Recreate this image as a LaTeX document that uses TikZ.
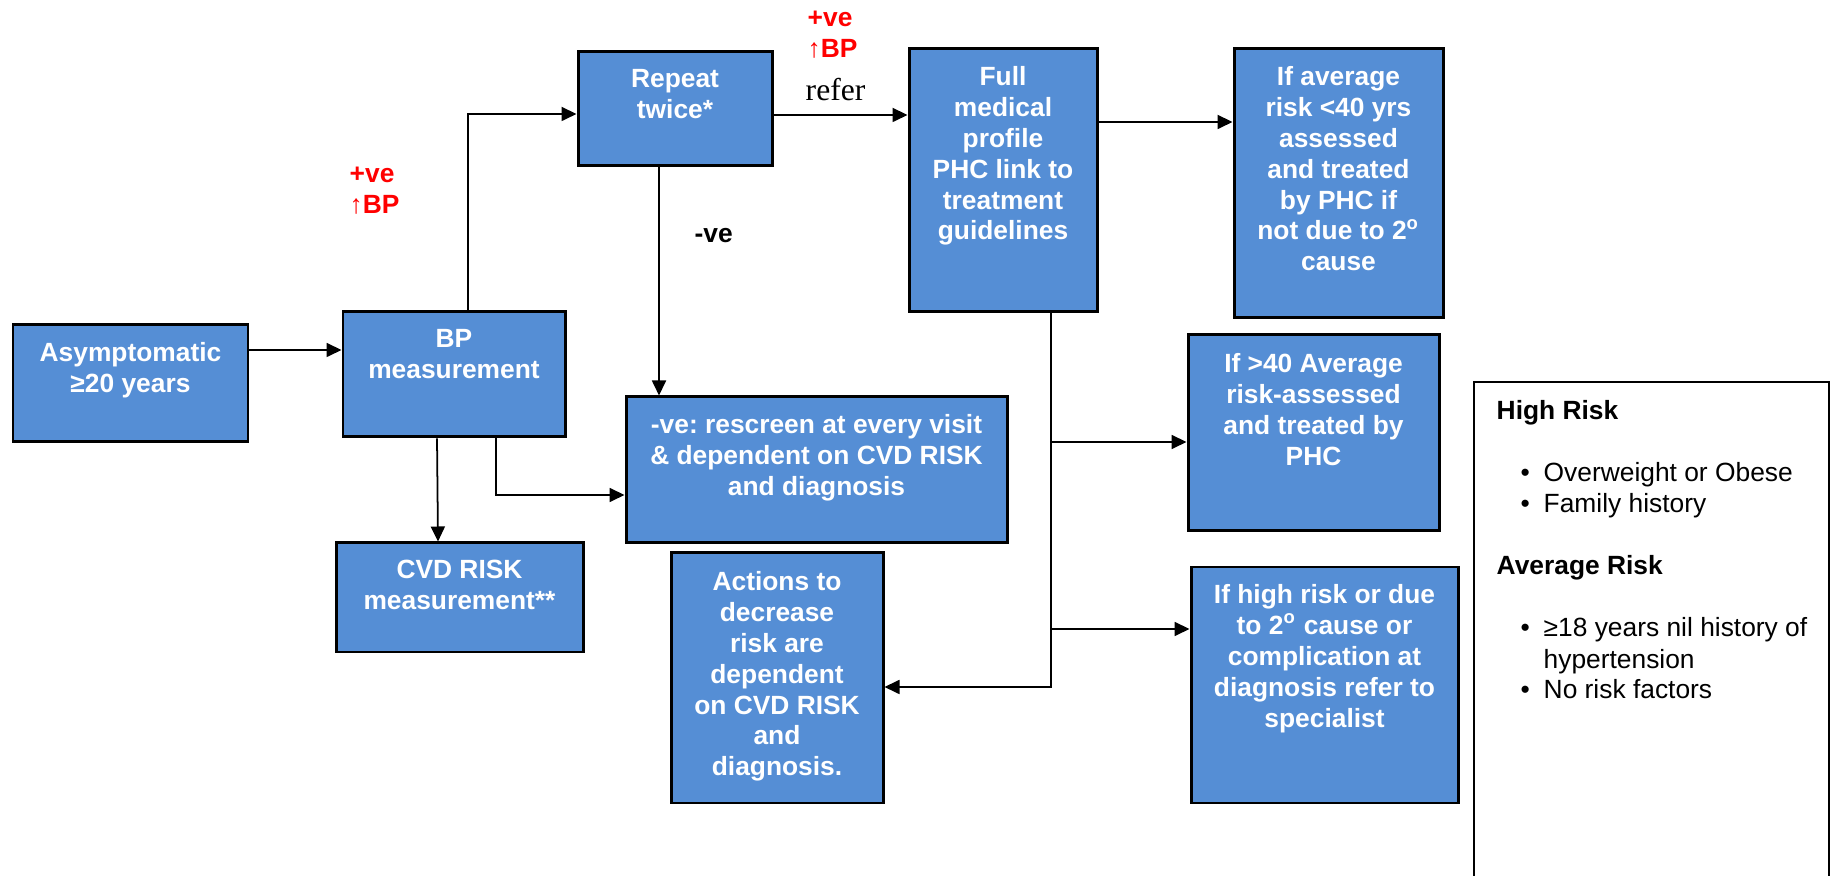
\documentclass[tikz,border=0pt]{standalone}
\usepackage{fontspec}
\setmainfont{Liberation Sans}
\newfontfamily\referfont{Liberation Serif}
\usetikzlibrary{arrows.meta, positioning}
\definecolor{boxblue}{HTML}{558ED5}
\definecolor{plusred}{HTML}{FF0000}
\frenchspacing

\begin{document}
\begin{tikzpicture}[
    % Blue step box (empty, its text is hung from the top edge)
    blk/.style={
        rectangle,
        draw=black,
        line width=0.85pt,
        fill=boxblue,
        inner sep=0pt
    },
    % White text inside a box
    blktxt/.style={
        anchor=north,
        inner sep=0pt,
        align=center,
        text=white,
        font=\fontsize{7.5}{8.8}\selectfont\bfseries
    },
    % Red result label
    poslbl/.style={
        anchor=north west,
        inner sep=0pt,
        align=left,
        text=plusred,
        font=\fontsize{7.5}{8.8}\selectfont\bfseries
    },
    % Legend text
    legtxt/.style={
        anchor=base west,
        inner sep=0pt,
        font=\fontsize{7.5}{8.8}\selectfont
    },
    legbold/.style={
        legtxt,
        font=\fontsize{7.5}{8.8}\selectfont\bfseries
    },
    % Arrow style
    arrow/.style={
        -{Triangle[length=1.5mm, width=1.4mm]},
        line width=0.5pt,
        black
    }
]

\useasboundingbox (0,0) rectangle (18.31,-8.76);

% === Screening column ===
\node[blk, minimum width=2.35cm, minimum height=1.17cm] (asym) at (1.305,-3.835) {};
\node[blktxt] (asymtxt) at ([yshift=-1.8mm]asym.north) {Asymptomatic\\≥20 years};

\node[blk, minimum width=2.22cm, minimum height=1.25cm] (bp) at (4.54,-3.745) {};
\node[blktxt] (bptxt) at ([yshift=-1.8mm]bp.north) {BP\\measurement};

\node[blk, minimum width=2.47cm, minimum height=1.09cm] (cvd) at (4.595,-5.975) {};
\node[blktxt] (cvdtxt) at ([yshift=-1.8mm]cvd.north) {CVD RISK\\measurement**};

% === Repeat and rescreen ===
\node[blk, minimum width=1.94cm, minimum height=1.14cm] (rep) at (6.75,-1.09) {};
\node[blktxt] (reptxt) at ([yshift=-1.8mm]rep.north) {Repeat\\twice*};

\node[blk, minimum width=3.81cm, minimum height=1.46cm] (neg) at (8.165,-4.70) {};
\node[blktxt] (negtxt) at ([yshift=-1.8mm]neg.north) {-ve: rescreen at every visit\\\& dependent on CVD RISK\\and diagnosis};

\node[blk, minimum width=2.12cm, minimum height=2.50cm] (act) at (7.77,-6.78) {};
\node[blktxt] (acttxt) at ([yshift=-1.9mm]act.north) {Actions to\\decrease\\risk are\\dependent\\on CVD RISK\\and\\diagnosis.};

% === Referral ===
\node[blk, minimum width=1.88cm, minimum height=2.63cm] (full) at (10.03,-1.805) {};
\node[blktxt] (fulltxt) at ([yshift=-1.8mm]full.north) {Full\\medical\\profile\\PHC link to\\treatment\\guidelines};

\node[blk, minimum width=2.09cm, minimum height=2.69cm] (avg) at (13.385,-1.835) {};
\node[blktxt] (avgtxt) at ([yshift=-1.8mm]avg.north) {If average\\risk <40 yrs\\assessed\\and treated\\by PHC if\\not due to 2\textsuperscript{o}\\cause};

\node[blk, minimum width=2.51cm, minimum height=1.96cm] (gt40) at (13.135,-4.33) {};
\node[blktxt] (gt40txt) at ([yshift=-1.9mm]gt40.north) {If >40 Average\\risk-assessed\\and treated by\\PHC};

\node[blk, minimum width=2.67cm, minimum height=2.36cm] (high) at (13.245,-6.85) {};
\node[blktxt] (hightxt) at ([yshift=-1.8mm]high.north) {If high risk or due\\to 2\textsuperscript{o} cause or\\complication at\\diagnosis refer to\\specialist};

% === Labels ===
\node[poslbl] (posleft) at (3.49,-1.66) {+ve\\↑BP};
\node[poslbl] (postop) at (8.07,-0.10) {+ve\\↑BP};
\node[anchor=base west, inner sep=0pt, font=\referfont\fontsize{9}{11}\selectfont] (referlbl) at (8.05,-1.01) {refer};
\node[anchor=base west, inner sep=0pt, font=\fontsize{7.5}{8.8}\selectfont\bfseries] (neglbl) at (6.94,-2.43) {-ve};

% === Arrows ===
\draw[arrow] (asym.east |- 0,-3.50) -- (bp.west |- 0,-3.50);
\draw[arrow] (bp.north -| 4.68,0) |- (rep.west |- 0,-1.14);
\draw[arrow] (rep.east |- 0,-1.15) -- (full.west |- 0,-1.15);
\draw[arrow] (rep.south -| 6.59,0) -- (neg.north -| 6.59,0);
\draw[arrow] (full.east |- 0,-1.22) -- (avg.west |- 0,-1.22);
\draw[arrow] (bp.south -| 4.37,0) -- (cvd.north -| 4.38,0);
\draw[arrow] (bp.south -| 4.96,0) |- (neg.west |- 0,-4.95);

\coordinate (trunk) at (10.51,-6.87);
\draw[arrow] (full.south -| trunk) -- (trunk) -- (trunk -| act.east);
\draw[arrow] (trunk |- 0,-4.42) -- (gt40.west |- 0,-4.42);
\draw[arrow] (trunk |- 0,-6.29) -- (high.west |- 0,-6.29);

% === Legend ===
\draw[line width=0.5pt] (14.74,-8.90) |- (18.29,-3.82) -- (18.29,-8.90);
\node[legbold] (highhead) at (14.96,-4.20) {High Risk};
\node[legtxt] (highone) at (15.43,-4.82) {\llap{\textbullet\hspace{1.4mm}}Overweight or Obese};
\node[legtxt] (hightwo) at (15.43,-5.13) {\llap{\textbullet\hspace{1.4mm}}Family history};
\node[legbold] (avghead) at (14.96,-5.75) {Average Risk};
\node[legtxt] (avgone) at (15.43,-6.37) {\llap{\textbullet\hspace{1.4mm}}≥18 years nil history of};
\node[legtxt] (avgonecont) at (15.43,-6.69) {hypertension};
\node[legtxt] (avgtwo) at (15.43,-6.99) {\llap{\textbullet\hspace{1.4mm}}No risk factors};

\end{tikzpicture}
\end{document}
